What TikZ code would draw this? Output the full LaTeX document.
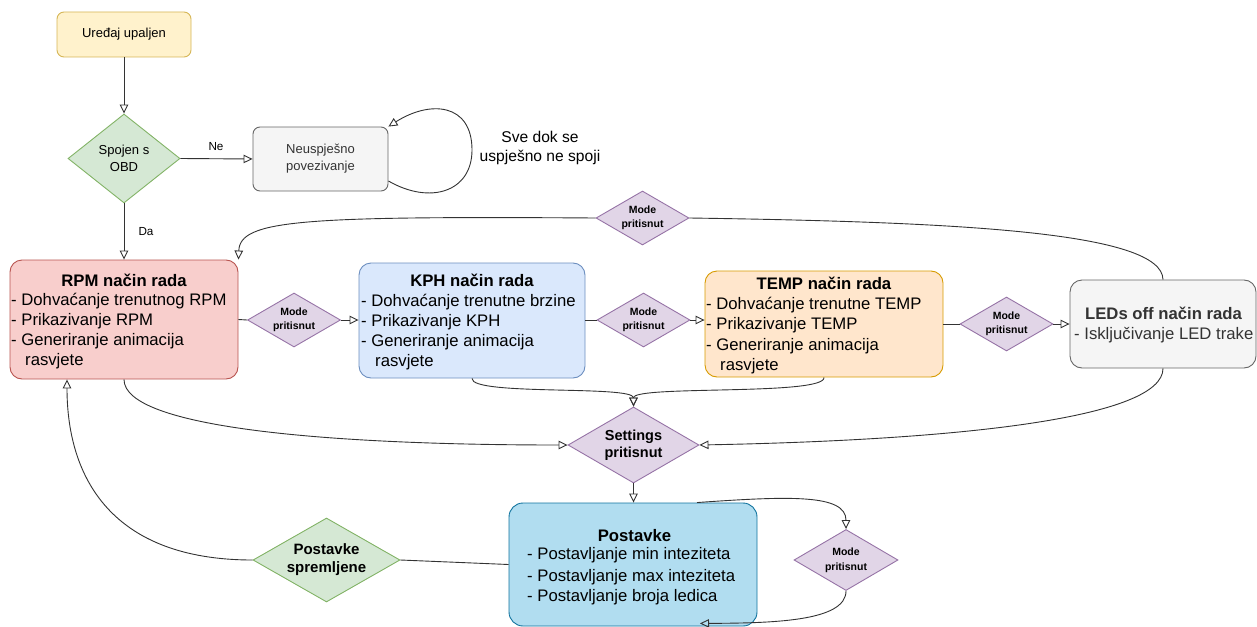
\documentclass[tikz,border=0pt]{standalone}
\usepackage{fontspec}
\setmainfont{Liberation Sans}
\usetikzlibrary{shapes.geometric,arrows.meta}
\definecolor{yf}{HTML}{FFF2CC}\definecolor{yd}{HTML}{D6B656}
\definecolor{gf}{HTML}{D5E8D4}\definecolor{gd}{HTML}{82B366}
\definecolor{grf}{HTML}{F5F5F5}\definecolor{grd}{HTML}{666666}\definecolor{grt}{HTML}{333333}
\definecolor{rf}{HTML}{F8CECC}\definecolor{rd}{HTML}{B85450}
\definecolor{bf}{HTML}{DAE8FC}\definecolor{bd}{HTML}{6C8EBF}
\definecolor{of}{HTML}{FFE6CC}\definecolor{od}{HTML}{D79B00}
\definecolor{pf}{HTML}{E1D5E7}\definecolor{pd}{HTML}{9673A6}
\definecolor{cf}{HTML}{B1DDF0}\definecolor{cd}{HTML}{10739E}
\definecolor{lc}{HTML}{333333}
\newcommand\myfs[2]{\fontsize{#1}{#2}\selectfont}
\tikzset{
  shp/.style={draw, line width=0.9pt, inner sep=0pt},
  bigbox/.style={shp, rounded corners=12pt},
  smallbox/.style={shp, rounded corners=7pt, align=center, font=\myfs{13}{17}},
  dia/.style={shp, diamond, align=center},
  modedia/.style={dia, fill=pf, draw=pd, aspect=1.72, minimum width=93pt, minimum height=54pt, font=\myfs{10.5}{14}\bfseries},
  ttl/.style={font=\myfs{16.7}{20}\bfseries, inner sep=0pt, anchor=base},
  ln/.style={font=\myfs{16.7}{20}, inner sep=0pt, anchor=base west},
  lbl/.style={inner sep=0pt},
  conn/.style={draw=lc, line width=0.9pt},
  arr/.style={conn, -{Triangle[open, length=9pt, width=8.5pt]}},
}
\begin{document}
\begin{tikzpicture}[x=1pt,y=-1pt]
\useasboundingbox (0,0) rectangle (1257,626);

% top part
\node[smallbox, fill=yf, draw=yd, minimum width=134pt, minimum height=45pt] (up) at (124,34.5) {Uređaj upaljen};
\node[dia, fill=gf, draw=gd, aspect=1.26, minimum width=112pt, minimum height=89pt, font=\myfs{13}{17}] (obd) at (124,158.5) {Spojen s\\OBD};
\node[smallbox, fill=grf, draw=grd, text=grt, minimum width=135pt, minimum height=64pt] (neus) at (320.5,159) {Neuspješno\\povezivanje};
\node[lbl, font=\myfs{11.7}{14}] (ne) at (216,147) {Ne};
\node[lbl, font=\myfs{11.7}{14}] (da) at (146,232) {Da};
\node[lbl, align=center, font=\myfs{15.6}{19}] (sve) at (540,147.5) {Sve dok se\\uspješno ne spoji};

% RPM
\node[bigbox, fill=rf, draw=rd, minimum width=228pt, minimum height=119pt] (rpm) at (124,319.5) {};
\node[ttl] (rpmt) at (124,286.5) {RPM način rada};
\node[ln] (rpm1) at (11,305.5) {- Dohvaćanje trenutnog RPM};
\node[ln] (rpm2) at (11,325.5) {- Prikazivanje RPM};
\node[ln] (rpm3) at (11,345.5) {- Generiranje animacija};
\node[ln] (rpm4) at (25,365.5) {rasvjete};

% KPH
\node[bigbox, fill=bf, draw=bd, minimum width=226pt, minimum height=115pt] (kph) at (472,320.5) {};
\node[ttl] (kpht) at (472,286.5) {KPH način rada};
\node[ln] (kph1) at (361,306) {- Dohvaćanje trenutne brzine};
\node[ln] (kph2) at (361,326) {- Prikazivanje KPH};
\node[ln] (kph3) at (361,346) {- Generiranje animacija};
\node[ln] (kph4) at (375,366) {rasvjete};

% TEMP
\node[bigbox, fill=of, draw=od, minimum width=238pt, minimum height=106pt] (temp) at (824,324) {};
\node[ttl] (tempt) at (824,289.5) {TEMP način rada};
\node[ln] (temp1) at (706,309.5) {- Dohvaćanje trenutne TEMP};
\node[ln] (temp2) at (706,329.5) {- Prikazivanje TEMP};
\node[ln] (temp3) at (706,350) {- Generiranje animacija};
\node[ln] (temp4) at (720,370) {rasvjete};

% LEDs
\node[bigbox, fill=grf, draw=grd, minimum width=186pt, minimum height=88pt] (leds) at (1163,324) {};
\node[ttl, text=grt] (ledst) at (1163.5,319.5) {LEDs off način rada};
\node[ln, text=grt] (leds1) at (1074,339.5) {- Isključivanje LED trake};

% mode diamonds
\node[modedia] (m1) at (294,320) {Mode\\pritisnut};
\node[modedia] (m2) at (643.5,320) {Mode\\pritisnut};
\node[modedia] (m3) at (1006.5,324) {Mode\\pritisnut};
\node[modedia] (m4) at (642.5,218) {Mode\\pritisnut};

% settings
\node[dia, fill=pf, draw=pd, aspect=1.71, minimum width=131pt, minimum height=76pt, font=\myfs{14.5}{17}\bfseries] (set) at (633.5,445) {Settings\\pritisnut};

% Postavke
\node[bigbox, fill=cf, draw=cd, minimum width=248pt, minimum height=123pt, rounded corners=14pt] (post) at (633,564.5) {};
\node[ttl] (postt) at (634.5,541.5) {Postavke};
\node[ln] (post1) at (527,559.5) {- Postavljanje min inteziteta};
\node[ln] (post2) at (527,581.5) {- Postavljanje max inteziteta};
\node[ln] (post3) at (527,601.5) {- Postavljanje broja ledica};

\node[dia, fill=pf, draw=pd, aspect=1.7, minimum width=104pt, minimum height=61pt, font=\myfs{10.5}{15}\bfseries] (m5) at (846,560) {Mode\\pritisnut};
\node[dia, fill=gf, draw=gd, aspect=1.75, minimum width=147pt, minimum height=84pt, font=\myfs{15}{18}\bfseries] (spr) at (326.5,560) {Postavke\\spremljene};

% connectors
\draw[arr] (up.south) -- (obd.north);
\draw[arr] (obd.east) -- (neus.west);
\draw[arr] (obd.south) -- (rpm.north);
\draw[arr] ([yshift=-22pt]neus.east) .. controls (430,205) and (472,192) .. (472,150)
           .. controls (472,103) and (430,100) .. (neus.north east);

\draw[conn] (rpm.east) -- (m1.west);
\draw[arr] (m1.east) -- (m1.east -| kph.west);
\draw[conn] (kph.east |- m2.west) -- (m2.west);
\draw[arr] (m2.east) -- (m2.east -| temp.west);
\draw[conn] (temp.east) -- (m3.west);
\draw[arr] (m3.east) -- (leds.west);

\draw[conn] (leds.north) .. controls (1162,232) and (960,222) .. (m4.east);
\draw[arr] (m4.west) .. controls (300,216) and (240,220) .. (rpm.north east);

\draw[arr] (rpm.south) .. controls (124,428) and (330,445) .. (set.west);
\draw[arr] (leds.south) .. controls (1163,418) and (960,440) .. (set.east);
\draw[arr] (kph.south) .. controls (471,396) and (633.5,385) .. (set.north);
\draw[arr] (temp.south) .. controls (825,396) and (633.5,385) .. (set.north);
\draw[arr] (set.south) -- (set.south |- post.north);

\draw[arr] ([xshift=64pt]post.north) .. controls (790,496) and (846,494) .. (m5.north);
\draw[arr] (m5.south) .. controls (846,622) and (770,623) .. ([xshift=67pt,yshift=3pt]post.south);
\draw[conn] (post.west) -- (spr.east);
\draw[arr] (spr.west) .. controls (112,560) and (67,478) .. ([xshift=-57pt]rpm.south);
\end{tikzpicture}
\end{document}
